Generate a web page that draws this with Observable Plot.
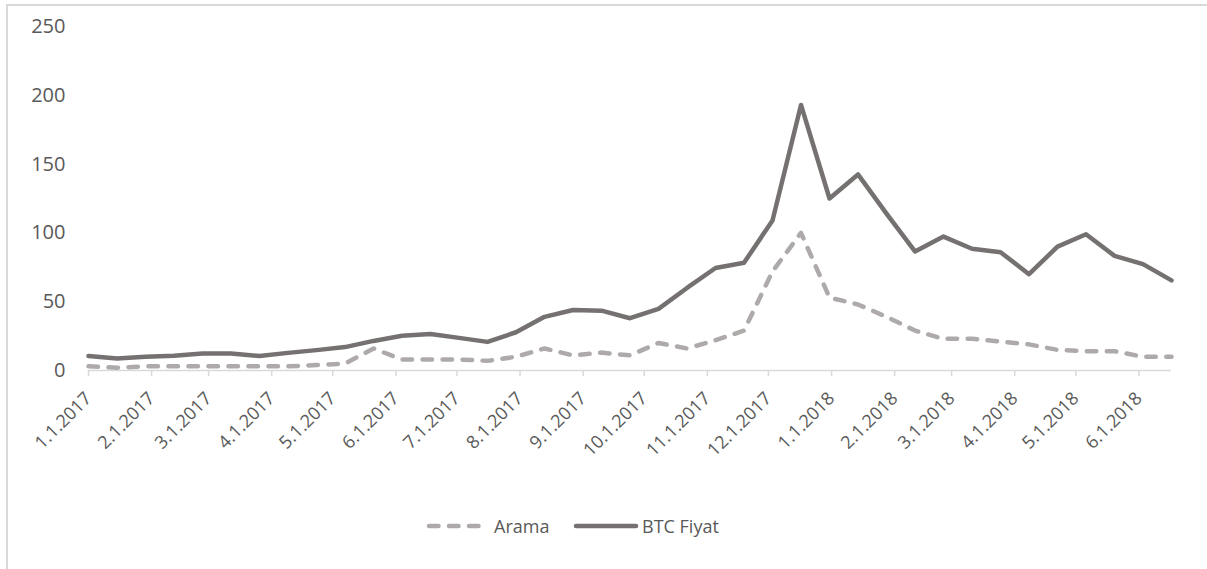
<!DOCTYPE html>
<html>
<head>
<meta charset="utf-8">
<script src="https://cdn.jsdelivr.net/npm/d3@7"></script>
<script src="https://cdn.jsdelivr.net/npm/@observablehq/plot@0.6"></script>
<style>
  html, body { margin: 0; padding: 0; background: #fff; }
  body { width: 1207px; height: 569px; position: relative; overflow: hidden; font-family: "Open Sans", sans-serif; }
  #frame { position: absolute; left: 6px; top: 4px; width: 1210px; height: 580px;
           border-left: 2px solid #d9d9d9; border-top: 2px solid #d9d9d9; }
  #chart { position: absolute; left: 0; top: 0; }
  .legend-item { position: absolute; top: 513px; height: 26px; display: flex; align-items: center;
                 font-size: 18px; color: #595959; white-space: nowrap; }
  .legend-item svg { display: block; }
</style>
</head>
<body>
<div id="frame"></div>
<div id="chart"></div>
<div id="legend"></div>
<script>
// Biweekly observations, Jan 2017 – Jun 2018
const dates = [
  "2017-01-01", "2017-01-15", "2017-01-29", "2017-02-12", "2017-02-26", "2017-03-12",
  "2017-03-26", "2017-04-09", "2017-04-23", "2017-05-07", "2017-05-21", "2017-06-04",
  "2017-06-18", "2017-07-02", "2017-07-16", "2017-07-30", "2017-08-13", "2017-08-27",
  "2017-09-10", "2017-09-24", "2017-10-08", "2017-10-22", "2017-11-05", "2017-11-19",
  "2017-12-03", "2017-12-17", "2017-12-31", "2018-01-14", "2018-01-28", "2018-02-11",
  "2018-02-25", "2018-03-11", "2018-03-25", "2018-04-08", "2018-04-22", "2018-05-06",
  "2018-05-20", "2018-06-03", "2018-06-17"
];

// Search interest ("Arama")
const arama = [
  3, 2, 3, 3, 3, 3, 3, 3, 4, 5, 16, 8,
  8, 8, 7, 10, 16, 11, 13, 11, 20, 16, 22, 29,
  72, 100, 53, 48, 39, 29, 23, 23, 21, 19, 15, 14,
  14, 10, 10
];

// BTC price index ("BTC Fiyat")
const btcFiyat = [
  10.5, 8.8, 10, 10.8, 12.3, 12.3, 10.5, 12.8, 14.8, 17, 21.5, 25.3,
  26.6, 23.7, 20.8, 27.8, 39, 44, 43.5, 38, 44.8, 60, 74.5, 78.3,
  109, 193, 125, 142.5, 114, 86.5, 97.3, 88.5, 86, 70, 90, 99,
  83.3, 77.3, 65.5
];

const seriesNames = ["Arama", "BTC Fiyat"];
const yTicks = [0, 50, 100, 150, 200, 250];
const monthTicks = [
  "2017-01-01", "2017-02-01", "2017-03-01", "2017-04-01", "2017-05-01", "2017-06-01",
  "2017-07-01", "2017-08-01", "2017-09-01", "2017-10-01", "2017-11-01", "2017-12-01",
  "2018-01-01", "2018-02-01", "2018-03-01", "2018-04-01", "2018-05-01", "2018-06-01"
];

const colors = { "Arama": "#aeaaaa", "BTC Fiyat": "#767171" };
const textColor = "#595959";
const axisColor = "#d9d9d9";

const rows = dates.map((d, i) => ({ date: new Date(d), arama: arama[i], btc: btcFiyat[i] }));
const tickDates = monthTicks.map(d => new Date(d));
const fmtTick = d => `${d.getUTCMonth() + 1}.${d.getUTCDate()}.${d.getUTCFullYear()}`;

const chart = Plot.plot({
  width: 1207,
  height: 480,
  marginLeft: 88,
  marginRight: 36,
  marginTop: 26,
  marginBottom: 110,
  style: { fontFamily: "'Open Sans', sans-serif", fontSize: "18px", color: textColor, background: "transparent", overflow: "visible" },
  x: { type: "utc", domain: [new Date(dates[0]), new Date(dates[dates.length - 1])] },
  y: { domain: [0, 250] },
  marks: [
    Plot.axisY({ ticks: yTicks, tickSize: 0, tickPadding: 23, fontSize: 20, label: null, fill: textColor }),
    Plot.ruleY([0], { stroke: axisColor, strokeWidth: 1.5 }),
    Plot.axisX({ ticks: tickDates, tickSize: 6, stroke: axisColor, strokeWidth: 1.5, tickFormat: () => "", label: null }),
    Plot.axisX({ ticks: tickDates, tickSize: 0, tickPadding: 25, tickRotate: -45, tickFormat: fmtTick, label: null, fill: textColor, fontSize: 18 }),
    Plot.lineY(rows, { x: "date", y: "arama", stroke: colors["Arama"], strokeWidth: 4.5,
      strokeDasharray: "9.5,10.5", strokeLinecap: "round", strokeLinejoin: "round" }),
    Plot.lineY(rows, { x: "date", y: "btc", stroke: colors["BTC Fiyat"], strokeWidth: 4.5,
      strokeLinecap: "round", strokeLinejoin: "round" })
  ]
});
document.getElementById("chart").appendChild(chart);

// Legend below the plot
const legend = document.getElementById("legend");
const legendSpec = [
  { name: seriesNames[0], left: 426, swatch: 58, dash: "9.5,10.5", gap: 10 },
  { name: seriesNames[1], left: 573, swatch: 66, dash: null, gap: 3 }
];
legendSpec.forEach(s => {
  const item = document.createElement("div");
  item.className = "legend-item";
  item.style.left = s.left + "px";
  const ns = "http://www.w3.org/2000/svg";
  const svg = document.createElementNS(ns, "svg");
  svg.setAttribute("width", s.swatch);
  svg.setAttribute("height", 10);
  const line = document.createElementNS(ns, "line");
  line.setAttribute("x1", 3); line.setAttribute("x2", s.swatch - 3);
  line.setAttribute("y1", 5); line.setAttribute("y2", 5);
  line.setAttribute("stroke", colors[s.name]);
  line.setAttribute("stroke-width", 4.5);
  line.setAttribute("stroke-linecap", "round");
  if (s.dash) line.setAttribute("stroke-dasharray", s.dash);
  svg.appendChild(line);
  const label = document.createElement("span");
  label.textContent = s.name;
  label.style.marginLeft = s.gap + "px";
  item.appendChild(svg);
  item.appendChild(label);
  legend.appendChild(item);
});
</script>
</body>
</html>
